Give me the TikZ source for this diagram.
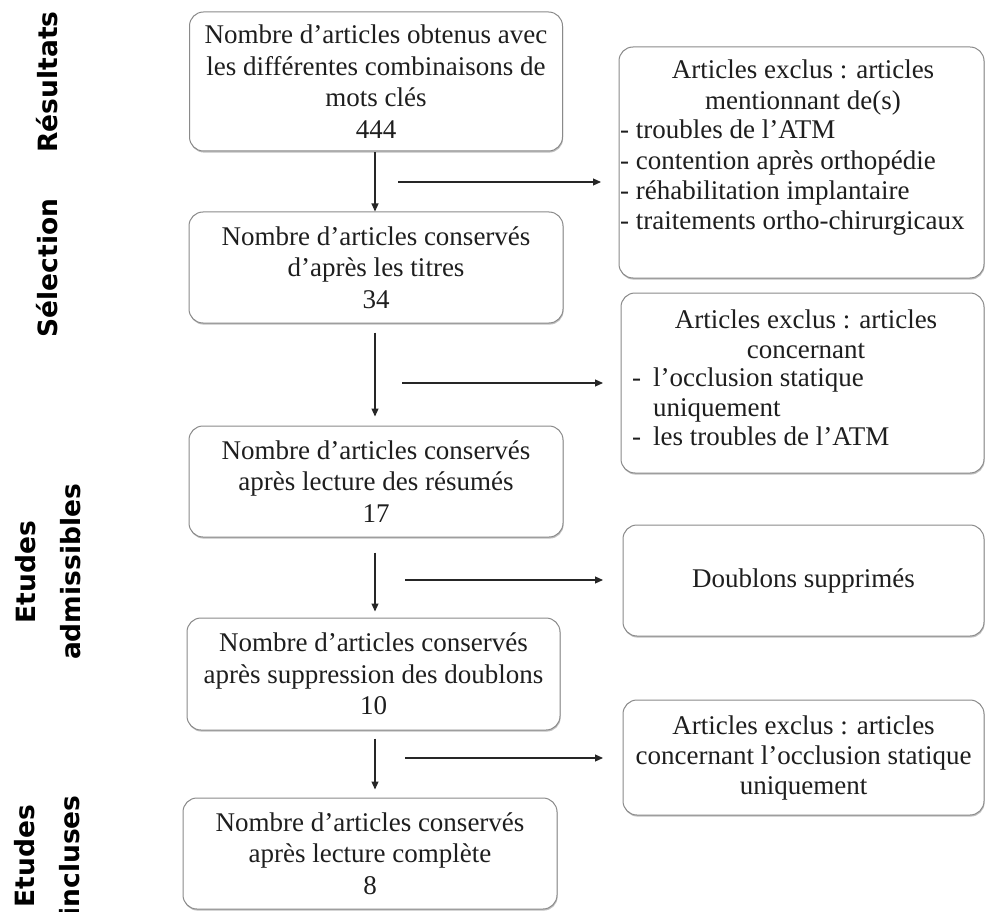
\documentclass[tikz,border=0pt]{standalone}
\usepackage{fontspec}
\setmainfont{Liberation Serif}
\newfontfamily\lblfont{DejaVu Sans}
\usetikzlibrary{arrows.meta,shadows}
\definecolor{boxline}{HTML}{8A8A8A}
\definecolor{txt}{HTML}{1E1E1E}
\begin{document}
\begin{tikzpicture}[x=1pt,y=-1pt,
  box/.style={draw=boxline, line width=1pt, rounded corners=14pt, fill=white,
    drop shadow={fill=black, opacity=0.25, shadow xshift=0.6pt, shadow yshift=-1.6pt},
    inner sep=0pt, align=center, text=txt,
    font=\fontsize{27}{31.7}\selectfont},
  rbox/.style={box, font=\fontsize{27}{30}\selectfont},
  arr/.style={-{Triangle[length=8pt,width=7pt]}, line width=1.1pt, draw=black!85},
  lbl/.style={rotate=90, align=center, font=\lblfont\bfseries\fontsize{26.5}{45}\selectfont}]
\useasboundingbox (0,0) rectangle (985,912);

% left labels
\node[lbl] (l1) at (47,82) {Résultats};
\node[lbl] (l2) at (47,268) {Sélection};
\node[lbl] (l3) at (48,572) {Etudes\\admissibles};
\node[lbl] (l4) at (47,856) {Etudes\\incluses};

% main column
\node[box, minimum width=373pt, minimum height=139pt] (b1) at (376,81.5)
  {Nombre d’articles obtenus avec\\les différentes combinaisons de\\mots clés\\444};
\node[box, minimum width=374pt, minimum height=111pt] (b2) at (376,267.5)
  {Nombre d’articles conservés\\d’après les titres\\34};
\node[box, minimum width=374pt, minimum height=111pt] (b3) at (376,481.5)
  {Nombre d’articles conservés\\après lecture des résumés\\17};
\node[box, minimum width=373pt, minimum height=112pt] (b4) at (373.5,674)
  {Nombre d’articles conservés\\après suppression des doublons\\10};
\node[box, minimum width=374pt, minimum height=111pt] (b5) at (370,853.5)
  {Nombre d’articles conservés\\après lecture complète\\8};

% right column
\node[rbox, minimum width=365pt, minimum height=231pt] (r1) at (801.5,162.5) {};
\node[text=txt, font=\fontsize{27}{31}\selectfont, inner sep=0pt, align=center, anchor=north] (r1h) at (803,60)
  {Articles exclus : articles\\mentionnant de(s)};
\node[text=txt, font=\fontsize{27}{30.2}\selectfont, inner sep=0pt, align=left, anchor=north west] (r1l) at (620,120)
  {- troubles de l’ATM\\- contention après orthopédie\\- réhabilitation implantaire\\- traitements ortho-chirurgicaux};

\node[rbox, minimum width=363pt, minimum height=180pt] (r2) at (802.5,383) {};
\node[text=txt, font=\fontsize{27}{29.5}\selectfont, inner sep=0pt, align=center, anchor=north] (r2h) at (806,310)
  {Articles exclus : articles\\concernant};
\node[text=txt, font=\fontsize{27}{29.5}\selectfont, inner sep=0pt, align=left, anchor=north west] (r2l) at (632,368)
  {\makebox[21pt][l]{-}l’occlusion statique\\\hspace*{21pt}uniquement\\\makebox[21pt][l]{-}les troubles de l’ATM};

\node[rbox, minimum width=361pt, minimum height=111pt] (r3) at (803.5,580.5) {Doublons supprimés};
\node[rbox, minimum width=361pt, minimum height=115pt] (r4) at (803.5,757.5)
  {Articles exclus : articles\\concernant l’occlusion statique\\uniquement};

% vertical arrows
\coordinate (xc) at (375,0);
\draw[arr, shorten <=1pt] (b1.south -| xc) -- (b2.north -| xc);
\draw[arr, shorten <=9pt, shorten >=9pt] (b2.south -| xc) -- (b3.north -| xc);
\draw[arr, shorten <=15pt, shorten >=6pt] (b3.south -| xc) -- (b4.north -| xc);
\draw[arr, shorten <=8pt, shorten >=8pt] (b4.south -| xc) -- (b5.north -| xc);

% horizontal arrows
\coordinate (h1a) at (398,182); \coordinate (h1b) at (601,182);
\coordinate (h2a) at (402,383); \coordinate (h2b) at (603,383);
\coordinate (h3a) at (405,580); \coordinate (h3b) at (603,580);
\coordinate (h4a) at (405,758); \coordinate (h4b) at (603,758);
\draw[arr] (h1a) -- (h1b);
\draw[arr] (h2a) -- (h2b);
\draw[arr] (h3a) -- (h3b);
\draw[arr] (h4a) -- (h4b);
\end{tikzpicture}
\end{document}
